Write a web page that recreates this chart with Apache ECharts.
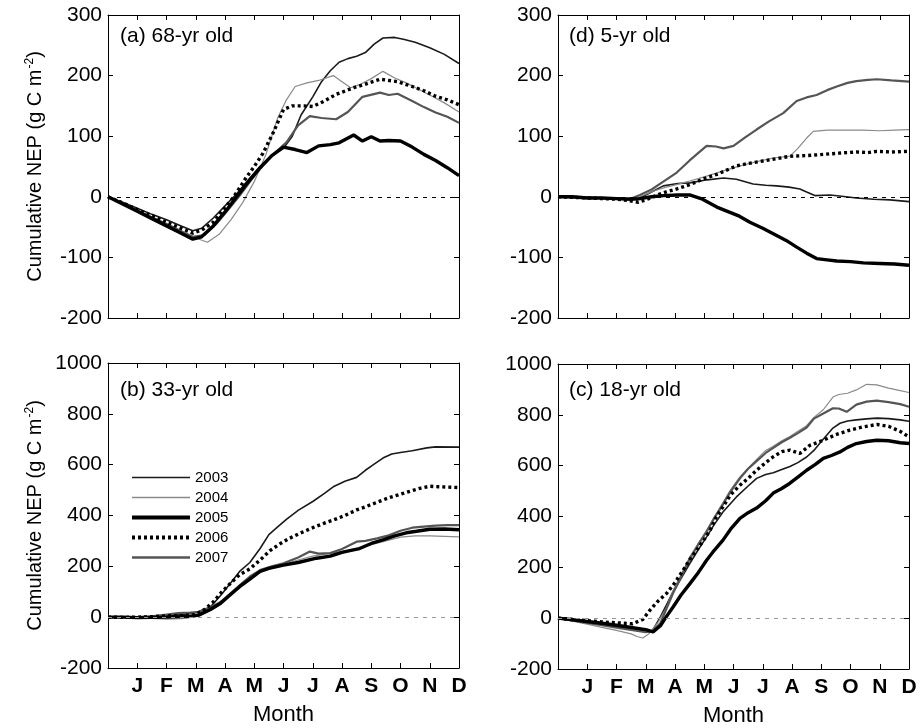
<!DOCTYPE html>
<html>
<head>
<meta charset="utf-8">
<script src="https://cdn.jsdelivr.net/npm/echarts@6/dist/echarts.min.js"></script>
<style>html,body{margin:0;padding:0;background:#fff;}#c{width:921px;height:728px;}</style>
</head>
<body>
<div id="c"></div>
<script>
// ---- labels ----
const monthLabels = ['', 'J','F','M','A','M','J','J','A','S','O','N','D'];
const years = ['2003','2004','2005','2006','2007'];
const panelTitles = ['(a) 68-yr old', '(d) 5-yr old', '(b) 33-yr old', '(c) 18-yr old'];
const yTopRange = [-200, 300, 100];
const yBottomRange = [-200, 1000, 200];

// ---- data: [month, cumulative NEP] ----
// (a) 68-yr old
const a2003 = [[0,0],[0.5,-9],[1,-19],[1.5,-29],[2,-38],[2.5,-48],[2.9,-56],[3.2,-52],[3.6,-35],[4.0,-15],[4.4,5],[4.8,28],[5.2,50],[5.6,68],[6.0,80],[6.3,100],[6.6,135],[7.0,165],[7.3,190],[7.6,208],[7.9,222],[8.2,228],[8.5,232],[8.8,238],[9.1,252],[9.4,262],[9.8,263],[10.1,260],[10.5,255],[11.0,246],[11.5,235],[12,220]];
const a2004 = [[0,0],[0.5,-11],[1,-22],[1.5,-33],[2,-44],[2.5,-56],[3.0,-68],[3.4,-75],[3.8,-62],[4.2,-38],[4.6,-10],[5.0,25],[5.4,70],[5.8,130],[6.1,160],[6.4,182],[6.8,188],[7.2,192],[7.7,200],[8.0,190],[8.3,180],[8.6,185],[9.0,195],[9.4,207],[9.8,196],[10.2,188],[10.6,178],[11.0,168],[11.5,155],[12,140]];
const a2005 = [[0,0],[0.5,-12],[1,-24],[1.5,-36],[2,-48],[2.5,-60],[2.9,-70],[3.2,-66],[3.6,-48],[4.0,-25],[4.4,0],[4.8,25],[5.2,48],[5.6,68],[6.0,82],[6.4,78],[6.8,73],[7.2,84],[7.6,86],[7.9,89],[8.4,102],[8.7,92],[9.0,99],[9.3,92],[9.6,93],[10.0,92],[10.4,82],[10.8,70],[11.2,60],[11.6,48],[12,35]];
const a2006 = [[0,0],[0.5,-10],[1,-21],[1.5,-31],[2,-42],[2.5,-52],[2.9,-60],[3.2,-55],[3.6,-42],[4.0,-18],[4.3,0],[4.7,30],[5.0,50],[5.3,72],[5.65,106],[6.0,144],[6.3,150],[6.7,150],[7.0,149],[7.4,158],[7.8,169],[8.4,180],[8.8,186],[9.3,194],[9.9,190],[10.4,182],[10.8,175],[11.2,166],[11.6,160],[12,152]];
const a2007 = [[0,0],[0.5,-11],[1,-23],[1.5,-34],[2,-45],[2.5,-57],[2.9,-66],[3.3,-63],[3.7,-45],[4.1,-22],[4.5,2],[4.9,28],[5.3,52],[5.7,72],[6.1,90],[6.5,118],[6.9,133],[7.3,130],[7.8,128],[8.2,140],[8.7,165],[9.3,172],[9.6,168],[9.9,170],[10.4,158],[10.8,148],[11.2,139],[11.6,132],[12,122]];

// (d) 5-yr old
const d2003 = [[0,0],[0.5,-1],[1,-2],[1.5,-2],[2,-3],[2.5,-4],[2.8,-2],[3.2,8],[3.6,18],[4.1,22],[4.5,23],[5.1,28],[5.66,31],[6.1,29],[6.67,21],[7.1,19],[7.47,18],[7.9,16],[8.27,13],[8.5,8],[8.78,2],[9.3,3],[9.7,1],[10.2,-2],[10.8,-4],[11.35,-5],[12,-8]];
const d2004 = [[0,0],[0.5,-1],[1,-2],[1.5,-3],[2,-4],[2.5,-5],[2.8,0],[3.3,10],[3.7,16],[4.06,20],[4.5,26],[5.08,34],[5.6,42],[6.22,51],[6.8,58],[7.36,64],[7.93,67],[8.2,80],[8.5,97],[8.73,108],[9.2,110],[9.8,110],[10.4,110],[11.0,109],[11.5,110],[12,111]];
const d2005 = [[0,0],[0.5,0],[1,-2],[1.5,-2],[2,-3],[2.5,-4],[2.8,-3],[3.2,0],[3.6,2],[4.1,3],[4.5,3],[4.94,-4],[5.43,-17],[5.9,-26],[6.2,-32],[6.56,-42],[7.0,-52],[7.36,-61],[7.8,-72],[8.16,-83],[8.5,-93],[8.84,-102],[9.2,-104],[9.53,-106],[10.0,-107],[10.44,-109],[11.0,-110],[11.5,-111],[12,-113]];
const d2006 = [[0,0],[0.5,-1],[1,-2],[1.5,-3],[2,-4],[2.4,-6],[2.75,-9],[3.0,-5],[3.4,3],[3.7,8],[4.06,13],[4.5,20],[5.0,30],[5.43,37],[6.1,51],[6.5,55],[7.0,59],[7.5,63],[7.93,67],[8.5,68],[9.07,70],[9.6,72],[10.2,74],[10.6,73],[10.9,75],[11.4,74],[12,75]];
const d2007 = [[0,0],[0.5,-1],[1,-1],[1.5,-2],[2,-3],[2.5,-3],[2.8,3],[3.2,12],[3.6,25],[4.06,40],[4.5,60],[5.08,84],[5.4,83],[5.66,80],[6.0,84],[6.4,98],[6.79,111],[7.2,124],[7.7,138],[8.16,158],[8.5,164],[8.84,168],[9.2,176],[9.53,182],[9.9,188],[10.2,191],[10.6,193],[10.9,194],[11.4,192],[12,190]];

// (b) 33-yr old
const b2003 = [[0,0],[0.5,0],[1,1],[1.5,2],[2,5],[2.4,10],[2.8,14],[3.1,22],[3.5,40],[3.85,85],[4.2,135],[4.5,180],[4.85,215],[5.2,270],[5.5,325],[5.8,355],[6.1,385],[6.5,420],[7.0,455],[7.4,487],[7.7,513],[8.1,535],[8.5,550],[8.8,578],[9.1,602],[9.4,626],[9.7,642],[10.0,648],[10.4,655],[10.9,666],[11.2,670],[12,669]];
const b2004 = [[0,0],[1,-2],[1.5,-5],[2,-8],[2.5,-6],[2.8,-2],[3.1,5],[3.5,25],[3.85,50],[4.2,85],[4.5,118],[4.85,150],[5.2,178],[5.6,198],[6.0,208],[6.5,225],[7.0,240],[7.5,250],[8.0,258],[8.5,270],[9.0,285],[9.5,300],[10.0,315],[10.5,320],[11.0,320],[11.5,318],[12,316]];
const b2005 = [[0,0],[0.5,0],[1,-2],[1.5,-1],[2,0],[2.5,2],[2.8,3],[3.1,8],[3.5,30],[3.85,55],[4.2,90],[4.5,120],[4.85,150],[5.2,180],[5.5,192],[6.0,205],[6.5,215],[7.13,232],[7.6,240],[8.0,255],[8.27,262],[8.6,270],[9.0,290],[9.4,304],[9.8,320],[10.2,332],[10.55,338],[11.0,346],[11.5,347],[12,344]];
const b2006 = [[0,0],[0.5,-1],[1,0],[1.5,2],[2,5],[2.5,6],[3.0,10],[3.3,30],[3.6,60],[3.85,94],[4.2,135],[4.5,167],[4.85,190],[5.2,225],[5.54,262],[5.9,290],[6.2,310],[6.56,330],[7.0,352],[7.4,370],[7.7,382],[8.1,400],[8.5,422],[8.84,436],[9.2,452],[9.6,470],[9.97,483],[10.4,498],[10.7,508],[11.0,515],[11.3,513],[11.6,512],[12,510]];
const b2007 = [[0,0],[1,0],[1.5,3],[2,10],[2.4,16],[2.8,18],[3.1,20],[3.5,38],[3.85,60],[4.2,95],[4.5,125],[4.85,160],[5.2,185],[5.6,200],[6.0,212],[6.5,235],[6.9,258],[7.2,250],[7.6,252],[8.0,268],[8.5,297],[8.8,300],[9.2,310],[9.6,322],[10.0,340],[10.4,352],[10.8,356],[11.2,360],[11.6,362],[12,362]];

// (c) 18-yr old
const c2003 = [[0,0],[0.5,-8],[1,-17],[1.5,-25],[2,-33],[2.5,-42],[3.0,-52],[3.2,-55],[3.5,5],[3.7,50],[3.94,105],[4.2,155],[4.51,216],[4.8,270],[5.08,320],[5.35,370],[5.64,418],[6.1,477],[6.5,520],[6.79,550],[7.1,565],[7.36,572],[7.65,585],[7.93,597],[8.2,612],[8.5,634],[8.75,660],[8.95,688],[9.2,722],[9.4,748],[9.64,767],[9.9,776],[10.2,780],[10.55,784],[10.9,787],[11.3,785],[11.7,780],[12,775]];
const c2004 = [[0,0],[0.5,-12],[1,-24],[1.5,-36],[2,-48],[2.5,-62],[2.7,-72],[2.9,-78],[3.1,-62],[3.4,-20],[3.7,40],[3.94,110],[4.2,170],[4.5,240],[4.8,295],[5.08,346],[5.35,400],[5.64,455],[5.9,505],[6.22,556],[6.5,590],[6.79,625],[7.1,660],[7.36,676],[7.65,698],[7.93,715],[8.2,735],[8.5,757],[8.75,790],[9.07,820],[9.4,870],[9.6,880],[9.9,885],[10.2,898],[10.55,920],[10.9,918],[11.3,905],[11.7,895],[12,888]];
const c2005 = [[0,0],[0.5,-6],[1,-13],[1.5,-20],[2,-28],[2.5,-36],[3.0,-45],[3.25,-54],[3.5,-30],[3.7,5],[3.94,45],[4.2,90],[4.51,136],[4.8,180],[5.08,228],[5.35,268],[5.64,307],[5.9,350],[6.22,393],[6.5,415],[6.79,433],[7.1,462],[7.36,492],[7.65,510],[7.93,531],[8.2,555],[8.5,582],[8.8,605],[9.07,629],[9.35,640],[9.64,654],[9.9,672],[10.2,687],[10.55,695],[10.9,700],[11.3,698],[11.7,690],[12,687]];
const c2006 = [[0,0],[0.5,-5],[1,-10],[1.5,-15],[2,-18],[2.55,-22],[2.9,-5],[3.14,31],[3.4,65],[3.71,97],[4.0,140],[4.28,189],[4.5,230],[4.74,268],[5.0,310],[5.2,346],[5.4,395],[5.64,438],[5.9,485],[6.22,523],[6.5,550],[6.79,582],[7.1,612],[7.36,635],[7.65,655],[7.93,661],[8.27,648],[8.61,680],[9.07,700],[9.5,722],[9.98,740],[10.4,752],[10.9,762],[11.3,755],[11.7,735],[12,713]];
const c2007 = [[0,0],[0.5,-9],[1,-19],[1.5,-28],[2,-37],[2.5,-46],[3.0,-55],[3.25,-50],[3.5,-20],[3.7,35],[3.94,100],[4.2,160],[4.5,232],[4.8,290],[5.08,340],[5.35,395],[5.64,448],[5.9,498],[6.22,550],[6.5,588],[6.79,618],[7.1,650],[7.36,670],[7.65,692],[7.93,710],[8.2,728],[8.5,750],[8.75,785],[9.07,805],[9.4,826],[9.6,825],[9.87,812],[10.2,840],[10.55,852],[10.9,856],[11.3,850],[11.7,842],[12,832]];

const panelData = [
  [a2003, a2004, a2005, a2006, a2007],
  [d2003, d2004, d2005, d2006, d2007],
  [b2003, b2004, b2005, b2006, b2007],
  [c2003, c2004, c2005, c2006, c2007]
];

// ---- styles ----
const FONT = 'Liberation Sans, Arial, sans-serif';
const lineStyles = [
  {color: '#1a1a1a', width: 1.6, type: 'solid'},
  {color: '#8a8a8a', width: 1.2, type: 'solid'},
  {color: '#000000', width: 3.4, type: 'solid'},
  {color: '#000000', width: 3.4, type: [3, 3]},
  {color: '#555555', width: 2.2, type: 'solid'}
];
const grids = [
  {left: 108, top: 15, width: 351, height: 303},
  {left: 558, top: 15, width: 351, height: 303},
  {left: 108, top: 363, width: 351, height: 305},
  {left: 558, top: 364, width: 351, height: 305}
];
const zeroColors = ['#000', '#000', '#999', '#999'];

const xAxis = [], yAxis = [], series = [], titles = [];
grids.forEach((g, i) => {
  const bottomRow = i >= 2;
  const yr = bottomRow ? yBottomRange : yTopRange;
  const lineCommon = {show: true, onZero: false, lineStyle: {color: '#000', width: 1}};
  const tickCommon = {show: true, inside: true, length: 5, lineStyle: {color: '#000'}};
  xAxis.push({
    gridIndex: i, type: 'value', min: 0, max: 12, interval: 1, position: 'bottom',
    axisLine: lineCommon, axisTick: tickCommon,
    splitLine: {show: false},
    axisLabel: {show: bottomRow, margin: 8, fontFamily: FONT, fontSize: 21, fontWeight: 'bold', color: '#000',
      formatter: v => monthLabels[Math.round(v)] || ''},
    name: bottomRow ? 'Month' : '', nameLocation: 'middle', nameGap: 36,
    nameTextStyle: {fontFamily: FONT, fontSize: 22, color: '#000'}
  });
  xAxis.push({
    gridIndex: i, type: 'value', min: 0, max: 12, interval: 1, position: 'top',
    axisLine: lineCommon, axisTick: tickCommon,
    splitLine: {show: false}, axisLabel: {show: false}
  });
  const leftCol = i % 2 === 0;
  yAxis.push({
    gridIndex: i, type: 'value', min: yr[0], max: yr[1], interval: yr[2], position: 'left',
    axisLine: lineCommon, axisTick: tickCommon,
    splitLine: {show: false},
    axisLabel: {margin: 6, fontFamily: FONT, fontSize: 21, color: '#000', formatter: v => String(v)},
    name: leftCol ? '{n|Cumulative NEP (g C m}{s|-2}{n|)}' : '',
    nameLocation: 'middle', nameGap: 62,
    nameTextStyle: {fontFamily: FONT, color: '#000',
      rich: {n: {fontFamily: FONT, fontSize: 20, color: '#000'},
             s: {fontFamily: FONT, fontSize: 12, color: '#000', padding: [0, 0, 10, 1]}}}
  });
  yAxis.push({
    gridIndex: i, type: 'value', min: yr[0], max: yr[1], interval: yr[2], position: 'right',
    axisLine: lineCommon, axisTick: tickCommon,
    splitLine: {show: false}, axisLabel: {show: false}
  });
  panelData[i].forEach((d, k) => {
    const s = {
      name: years[k], type: 'line', xAxisIndex: 2 * i, yAxisIndex: 2 * i,
      data: d, symbol: 'none', smooth: false, lineStyle: lineStyles[k], itemStyle: {color: lineStyles[k].color},
      z: k === 2 || k === 3 ? 4 : 3
    };
    if (k === 0) {
      s.markLine = {
        silent: true, symbol: 'none', label: {show: false},
        lineStyle: {color: zeroColors[i], width: 1, type: [4, 5]},
        data: [{yAxis: 0}]
      };
    }
    series.push(s);
  });
});

titles.push({text: panelTitles[0], left: 120, top: 26});
titles.push({text: panelTitles[1], left: 569, top: 26});
titles.push({text: panelTitles[2], left: 120, top: 380});
titles.push({text: panelTitles[3], left: 569, top: 380});
titles.forEach(t => { t.padding = 0; t.textStyle = {fontFamily: FONT, fontSize: 21, fontWeight: 'normal', color: '#000'}; });

const legendWidths = [1.6, 1.4, 4, 4, 2.4];
const chart = echarts.init(document.getElementById('c'), null, {renderer: 'canvas'});
chart.setOption({
  animation: false,
  backgroundColor: '#fff',
  title: titles,
  grid: grids.map(g => Object.assign({containLabel: false}, g)),
  xAxis: xAxis,
  yAxis: yAxis,
  legend: {
    orient: 'vertical', left: 130, top: 470, itemWidth: 58, itemHeight: 14, itemGap: 5,
    data: years.map((y, k) => ({name: y, lineStyle: {width: legendWidths[k], color: lineStyles[k].color, type: lineStyles[k].type}})),
    itemStyle: {opacity: 0},
    textStyle: {fontFamily: FONT, fontSize: 15, color: '#000'}, padding: 0, selectedMode: false
  },
  series: series
});
</script>
</body>
</html>
